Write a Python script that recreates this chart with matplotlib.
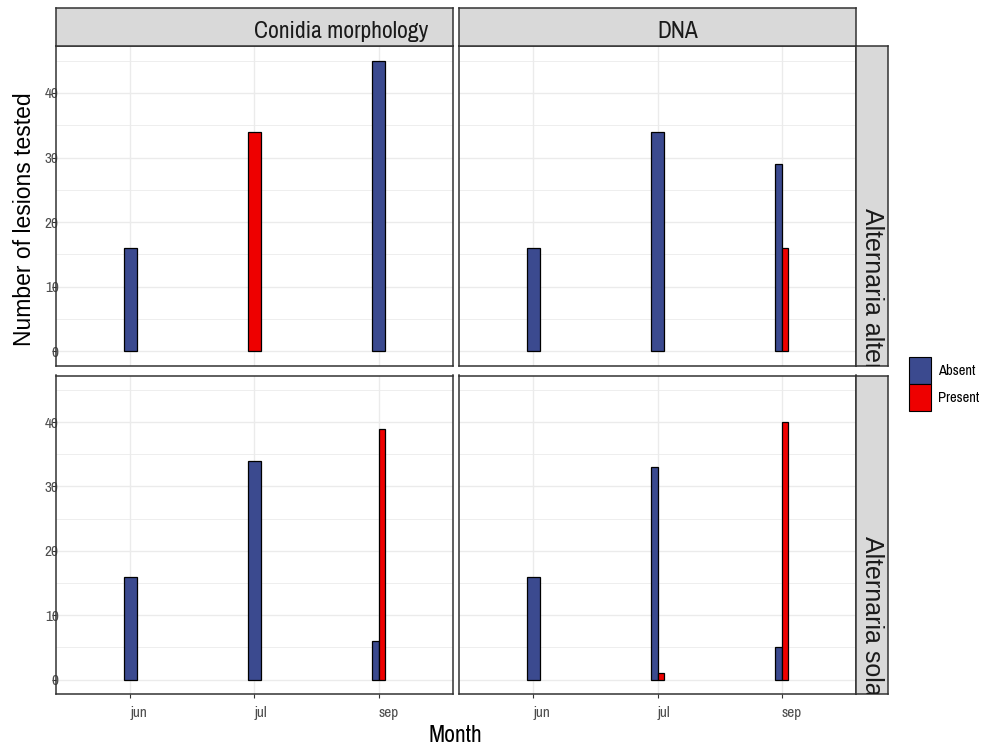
import matplotlib
matplotlib.use('Agg')
import matplotlib.pyplot as plt
from matplotlib.patches import Patch
from matplotlib import font_manager as fm

months = ['jun', 'jul', 'sep']
methods = ['Conidia morphology', 'DNA']
species = ['Alternaria alternata', 'Alternaria solani']
statuses = ['Absent', 'Present']
colors = {'Absent': '#3B4A8F', 'Present': '#EE0000'}

# lesion counts per month (None = no bar)
alt_conidia_absent = [16, None, 45]
alt_conidia_present = [None, 34, None]
alt_dna_absent = [16, 34, 29]
alt_dna_present = [None, None, 16]
sol_conidia_absent = [16, 34, 6]
sol_conidia_present = [None, None, 39]
sol_dna_absent = [16, 33, 5]
sol_dna_present = [None, 1, 40]

panels = {
    (0, 0): {'Absent': alt_conidia_absent, 'Present': alt_conidia_present},
    (0, 1): {'Absent': alt_dna_absent, 'Present': alt_dna_present},
    (1, 0): {'Absent': sol_conidia_absent, 'Present': sol_conidia_present},
    (1, 1): {'Absent': sol_dna_absent, 'Present': sol_dna_present},
}

# look for a narrow / condensed sans face, else fall back to Liberation Sans
narrow = None
for f in fm.fontManager.ttflist:
    if ('Narrow' in f.name or 'Condensed' in f.name) and f.style == 'normal':
        narrow = {'family': [f.name, 'DejaVu Sans'], 'stretch': 'normal'}
        break
if narrow is None:
    for f in fm.fontManager.ttflist:
        if str(f.stretch) in ('condensed', 'semi-condensed') and f.style == 'normal':
            narrow = {'family': [f.name, 'DejaVu Sans'], 'stretch': f.stretch}
            break
scale = 1.0
if narrow is None:
    narrow = {'family': ['Liberation Sans', 'DejaVu Sans'], 'stretch': 'normal'}
    scale = 0.85
REG = ['Liberation Sans', 'DejaVu Sans']

W, H = 984, 747
fig = plt.figure(figsize=(W / 100, H / 100), dpi=100)


def box(x0, y0, x1, y1):
    return [x0 / W, 1 - y1 / H, (x1 - x0) / W, (y1 - y0) / H]


col_x = [(56, 453), (459, 856)]
row_y = [(46, 366), (375.5, 694)]

for (r, c), data in panels.items():
    x0, x1 = col_x[c]
    y0, y1 = row_y[r]
    ax = fig.add_axes(box(x0, y0, x1, y1))
    for i, m in enumerate(months):
        present = [s for s in statuses if data[s][i] is not None]
        w = 0.1 / len(present)
        for k, s in enumerate(present):
            ax.bar(i + 1 - 0.05 + w * (k + 0.5), data[s][i], width=w,
                   color=colors[s], edgecolor='black', linewidth=0.9, zorder=3)
    ax.set_xlim(0.4, 3.6)
    ax.set_ylim(-2.25, 47.25)
    ax.set_xticks([1, 2, 3])
    ax.set_xticklabels(months)
    ax.set_yticks([0, 10, 20, 30, 40])
    ax.set_yticks([5, 15, 25, 35, 45], minor=True)
    ax.grid(True, which='major', color='#EBEBEB', linewidth=1.0, zorder=0)
    ax.grid(True, which='minor', axis='y', color='#EBEBEB', linewidth=0.6, zorder=0)
    ax.set_axisbelow(True)
    for sp in ax.spines.values():
        sp.set_color('#333333')
        sp.set_linewidth(1.1)
    ax.tick_params(which='minor', length=0)
    ax.tick_params(axis='both', length=3, color='#333333', labelcolor='#4D4D4D',
                   labelsize=11 * scale)
    ax.tick_params(axis='y', pad=-5)
    ax.tick_params(axis='x', pad=6)
    for lbl in ax.get_yticklabels() + ax.get_xticklabels():
        lbl.set_family(narrow['family'])
        lbl.set_stretch(narrow['stretch'])
    for lbl in ax.get_xticklabels():
        lbl.set_ha('left')
    if r == 0:
        ax.tick_params(axis='x', bottom=False, labelbottom=False)
    if c == 1:
        ax.tick_params(axis='y', left=False, labelleft=False)

    # top strips
    if r == 0:
        st = fig.add_axes(box(x0, 8, x1, 46))
        st.set_facecolor('#D9D9D9')
        st.set_xticks([])
        st.set_yticks([])
        for sp in st.spines.values():
            sp.set_color('#333333')
            sp.set_linewidth(1.1)
        st.text(0.5, 0.39, methods[c], ha='left', va='center', fontsize=17 * scale,
                family=narrow['family'], stretch=narrow['stretch'], color='#1A1A1A',
                transform=st.transAxes, clip_on=True)
    # right strips
    if c == 1:
        st = fig.add_axes(box(856, y0, 888, y1))
        st.set_facecolor('#D9D9D9')
        st.set_xticks([])
        st.set_yticks([])
        for sp in st.spines.values():
            sp.set_color('#333333')
            sp.set_linewidth(1.1)
        st.text(0.5, 0.495, species[r], rotation=270, ha='center', va='top',
                fontsize=18, family=REG, color='#1A1A1A',
                transform=st.transAxes, clip_on=True)

fig.text(25 / W, 1 - 219 / H, 'Number of lesions tested', rotation=90,
         ha='center', va='center', fontsize=16.5, family=REG)
fig.text(455 / W, 1 - 735 / H, 'Month', ha='center', va='center',
         fontsize=17 * scale, family=narrow['family'], stretch=narrow['stretch'])

handles = [Patch(facecolor=colors[s], edgecolor='black', linewidth=0.8, label=s)
           for s in statuses]
leg = fig.legend(handles=handles, loc='upper left',
                 bbox_to_anchor=(909 / W, 1 - 357 / H), frameon=False,
                 borderpad=0, borderaxespad=0, labelspacing=0,
                 handlelength=1.5, handleheight=2.45, handletextpad=0.5,
                 prop={'family': narrow['family'], 'stretch': narrow['stretch'],
                       'size': 10.5 * scale})

fig.savefig('out.png', dpi=100)
